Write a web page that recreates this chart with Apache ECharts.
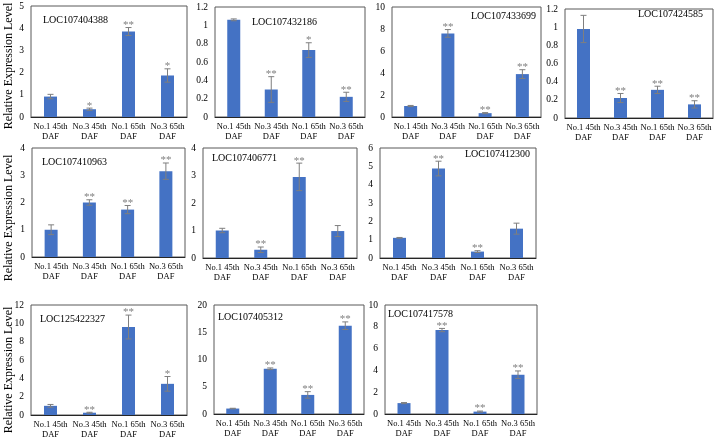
<!DOCTYPE html>
<html>
<head>
<meta charset="utf-8">
<script src="https://cdn.jsdelivr.net/npm/echarts@6/dist/echarts.min.js"></script>
<style>
html,body{margin:0;padding:0;background:#fff;}
#chart{width:716px;height:440px;}
</style>
</head>
<body>
<div id="chart"></div>
<script>
// data
var categories = ['No.1 45th\nDAF', 'No.3 45th\nDAF', 'No.1 65th\nDAF', 'No.3 65th\nDAF'];
var genes = ['LOC107404388', 'LOC107432186', 'LOC107433699', 'LOC107424585', 'LOC107410963',
             'LOC107406771', 'LOC107412300', 'LOC125422327', 'LOC107405312', 'LOC107417578'];
var means = [
    [0.92, 0.35, 3.85, 1.87],
    [1.06, 0.30, 0.73, 0.22],
    [1.0, 7.6, 0.35, 3.9],
    [0.98, 0.22, 0.31, 0.15],
    [1.0, 2.0, 1.74, 3.15],
    [1.0, 0.3, 2.95, 0.98],
    [1.1, 4.88, 0.35, 1.6],
    [1.0, 0.25, 9.6, 3.4],
    [1.0, 8.3, 3.5, 16.2],
    [1.0, 7.7, 0.22, 3.6]
];
var errors = [
    [0.1, 0.05, 0.18, 0.3],
    [0.01, 0.14, 0.08, 0.05],
    [0.05, 0.35, 0.05, 0.4],
    [0.15, 0.05, 0.04, 0.04],
    [0.18, 0.1, 0.15, 0.3],
    [0.08, 0.1, 0.5, 0.2],
    [0.02, 0.4, 0.05, 0.3],
    [0.15, 0.05, 1.3, 0.8],
    [0.05, 0.15, 0.6, 0.7],
    [0.05, 0.15, 0.05, 0.35]
];
var marks = [
    ['', '*', '**', '*'],
    ['', '**', '*', '**'],
    ['', '**', '**', '**'],
    ['', '**', '**', '**'],
    ['', '**', '**', '**'],
    ['', '**', '**', ''],
    ['', '**', '**', ''],
    ['', '**', '**', '*'],
    ['', '**', '**', '**'],
    ['', '**', '**', '**']
];
var yMax = [5, 1.2, 10, 1.2, 4, 4, 6, 12, 20, 10];
var yStep = [1, 0.2, 2, 0.2, 1, 1, 1, 2, 5, 2];
var yTitle = 'Relative Expression Level';

// panel boxes [left, top, width, height]
var boxes = [
    [31, 6, 156, 111], [215, 7, 150, 110], [392, 7, 149, 110], [565, 9, 148, 109],
    [32, 148, 153, 109], [203, 148, 154, 110], [380, 148, 156, 110],
    [31, 305, 156, 110], [214, 305, 150, 109], [385, 305, 152, 109]
];
// title placement
var titlePos = [
    {left: 43, top: 15}, {left: 252, top: 17}, {right: 180, top: 11}, {right: 13, top: 9},
    {left: 42, top: 157}, {left: 212, top: 153}, {right: 186, top: 149},
    {left: 40, top: 314}, {left: 218, top: 312}, {left: 388, top: 309}
];

var FONT = '"Liberation Serif", "Times New Roman", serif';
var chart = echarts.init(document.getElementById('chart'));

var grids = [], xAxes = [], yAxes = [], titles = [], series = [];

for (var i = 0; i < genes.length; i++) {
    var b = boxes[i];
    grids.push({
        left: b[0], top: b[1], width: b[2], height: b[3],
        show: true, borderColor: '#595959', borderWidth: 1, backgroundColor: 'transparent'
    });
    xAxes.push({
        type: 'category', gridIndex: i, data: categories,
        axisTick: {show: false},
        axisLine: {lineStyle: {color: '#262626', width: 1}},
        axisLabel: {interval: 0, fontFamily: FONT, fontSize: 8.5, color: '#000', lineHeight: 10, margin: 5}
    });
    yAxes.push({
        type: 'value', gridIndex: i, min: 0, max: yMax[i], interval: yStep[i],
        splitLine: {show: false},
        axisLine: {show: false},
        axisTick: {show: false},
        axisLabel: {fontFamily: FONT, fontSize: 9.5, color: '#000', margin: 7}
    });
    var t = {text: genes[i], padding: 0, textStyle: {fontFamily: FONT, fontSize: 10, fontWeight: 'normal', color: '#000'}};
    for (var k in titlePos[i]) t[k] = titlePos[i][k];
    titles.push(t);

    series.push({
        type: 'bar', xAxisIndex: i, yAxisIndex: i,
        barWidth: 13,
        itemStyle: {color: '#4472C4'},
        data: means[i]
    });

    var errData = [];
    for (var j = 0; j < categories.length; j++) {
        errData.push([j, means[i][j], errors[i][j]]);
    }
    series.push({
        type: 'custom', xAxisIndex: i, yAxisIndex: i, z: 5,
        encode: {x: 0, y: 1},
        data: errData,
        renderItem: (function (panel) {
            return function (params, api) {
                var x = api.value(0), m = api.value(1), e = api.value(2);
                var top = api.coord([x, m + e]);
                var bot = api.coord([x, Math.max(m - e, 0)]);
                var st = {stroke: '#7f7f7f', lineWidth: 1};
                var kids = [
                    {type: 'line', shape: {x1: top[0], y1: top[1], x2: bot[0], y2: bot[1]}, style: st},
                    {type: 'line', shape: {x1: top[0] - 3, y1: top[1], x2: top[0] + 3, y2: top[1]}, style: st},
                    {type: 'line', shape: {x1: bot[0] - 3, y1: bot[1], x2: bot[0] + 3, y2: bot[1]}, style: st}
                ];
                var mk = marks[panel][params.dataIndex];
                if (mk) {
                    kids.push({
                        type: 'text',
                        style: {
                            text: mk, x: top[0], y: top[1] + 3,
                            align: 'center', verticalAlign: 'bottom',
                            fill: '#7f7f7f', font: '11px ' + FONT
                        }
                    });
                }
                return {type: 'group', children: kids};
            };
        })(i)
    });
}

// shared y-axis titles, one per row
var rowTitleY = [66, 218, 370];
var graphics = rowTitleY.map(function (y) {
    return {
        type: 'text', x: 9, y: y, rotation: Math.PI / 2,
        style: {text: yTitle, align: 'center', verticalAlign: 'middle', fill: '#000', font: '12px ' + FONT}
    };
});

option = {
    animation: false,
    backgroundColor: '#fff',
    title: titles,
    grid: grids,
    xAxis: xAxes,
    yAxis: yAxes,
    series: series,
    graphic: graphics
};

chart.setOption(option);
</script>
</body>
</html>
